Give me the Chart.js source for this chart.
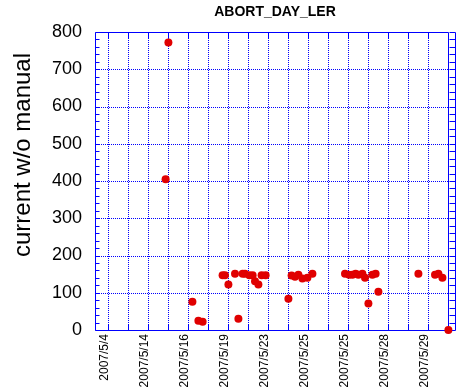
<!DOCTYPE html>
<html>
<head>
<meta charset="utf-8">
<script src="https://cdn.jsdelivr.net/npm/chart.js@4.4.0/dist/chart.umd.min.js"></script>
<style>
html,body{margin:0;padding:0;background:#fff;}
#wrap{width:463px;height:392px;position:relative;}
</style>
</head>
<body>
<div id="wrap"><canvas id="c" width="463" height="392"></canvas></div>
<script>
// ---- data ----
const chartTitle = 'ABORT_DAY_LER';
const yTitle = 'current w/o manual';
const xTickLabels = ['2007/5/4','2007/5/14','2007/5/16','2007/5/19','2007/5/23','2007/5/25','2007/5/25','2007/5/28','2007/5/29'];
const xTickPositions = [0, 2, 4, 6, 8, 10, 12, 14, 16];
const xGridPositions = [0,1,2,3,4,5,6,7,8,9,10,11,12,13,14,15,16];
const yTickValues = [0,100,200,300,400,500,600,700,800];
const xPositions = [2.88, 3.02, 4.22, 4.52, 4.73, 5.73, 5.85, 6.02, 6.35, 6.52, 6.73, 6.85, 7.07, 7.23, 7.35, 7.52, 7.68, 7.88,
  9.02, 9.18, 9.35, 9.52, 9.72, 9.97, 10.22,
  11.85, 12.05, 12.22, 12.38, 12.52, 12.72, 12.85, 13.02, 13.22, 13.38, 13.52,
  15.52, 16.35, 16.52, 16.72, 17.02];
const currentValues = [405, 772, 76, 25, 22, 147, 147, 122, 151, 30, 151, 151, 147, 147, 131, 122, 147, 147,
  84, 146, 143, 148, 138, 140, 151,
  151, 148, 148, 151, 148, 151, 140, 71, 148, 151, 103,
  151, 148, 151, 140, 0];

const points = xPositions.map((x, i) => ({x: x, y: currentValues[i]}));
const BLUE = '#0000ff';

const framePlugin = {
  id: 'frame',
  beforeDatasetsDraw(chart) {
    const ctx = chart.ctx;
    const a = chart.chartArea;
    const xs = chart.scales.x, ys = chart.scales.y;
    ctx.save();
    ctx.strokeStyle = BLUE;
    ctx.lineWidth = 1;
    ctx.setLineDash([1, 1]);
    xGridPositions.forEach(k => {
      const px = Math.round(xs.getPixelForValue(k)) + 0.5;
      ctx.beginPath(); ctx.moveTo(px, a.top); ctx.lineTo(px, a.bottom); ctx.stroke();
    });
    yTickValues.slice(1, -1).forEach(v => {
      const py = Math.round(ys.getPixelForValue(v)) + 0.5;
      ctx.beginPath(); ctx.moveTo(a.left, py); ctx.lineTo(a.right, py); ctx.stroke();
    });
    ctx.setLineDash([]);
    // frame
    const L = Math.round(a.left) + 0.5, R = Math.round(a.right) + 0.5;
    const T = Math.round(a.top) + 0.5, B = Math.round(a.bottom) + 0.5;
    ctx.beginPath();
    ctx.moveTo(L, T); ctx.lineTo(R, T); ctx.lineTo(R, B); ctx.lineTo(L, B); ctx.closePath();
    ctx.stroke();
    // x ticks (top and bottom, inward)
    xGridPositions.forEach(k => {
      const px = Math.round(xs.getPixelForValue(k)) + 0.5;
      ctx.beginPath(); ctx.moveTo(px, B); ctx.lineTo(px, B - 6); ctx.stroke();
      ctx.beginPath(); ctx.moveTo(px, T); ctx.lineTo(px, T + 6); ctx.stroke();
    });
    // y minor ticks left and right
    for (let v = 0; v <= 800; v += 20) {
      const py = Math.round(ys.getPixelForValue(v)) + 0.5;
      ctx.beginPath(); ctx.moveTo(L, py); ctx.lineTo(L + 4, py); ctx.stroke();
      ctx.beginPath(); ctx.moveTo(R + 7, py); ctx.lineTo(R + 1, py); ctx.stroke();
    }
    ctx.beginPath(); ctx.moveTo(R + 7, T); ctx.lineTo(R + 7, B); ctx.stroke();
    ctx.restore();
  },
  afterDraw(chart) {
    const ctx = chart.ctx;
    ctx.save();
    ctx.fillStyle = '#000';
    ctx.font = 'bold 14px "Liberation Sans", Arial, sans-serif';
    ctx.textAlign = 'center';
    ctx.textBaseline = 'middle';
    ctx.fillText(chartTitle, 275, 12);
    ctx.translate(30, 155);
    ctx.rotate(-Math.PI / 2);
    ctx.font = '24px "Liberation Sans", Arial, sans-serif';
    ctx.textAlign = 'center';
    ctx.textBaseline = 'alphabetic';
    ctx.fillText(yTitle, 0, 0);
    ctx.restore();
  }
};

new Chart(document.getElementById('c'), {
  type: 'scatter',
  data: {
    datasets: [{
      data: points,
      backgroundColor: 'rgb(224,0,0)',
      borderWidth: 0,
      pointRadius: 4,
      pointHoverRadius: 4,
      clip: false
    }]
  },
  options: {
    responsive: false,
    animation: false,
    events: [],
    layout: {padding: {left: 0, right: 15, top: 32, bottom: 0}},
    plugins: {legend: {display: false}, tooltip: {enabled: false}, title: {display: false}},
    scales: {
      x: {
        type: 'linear',
        min: -0.65,
        max: 17,
        grid: {display: false, drawTicks: false},
        border: {display: false},
        afterBuildTicks: s => { s.ticks = xTickPositions.map(v => ({value: v})); },
        afterFit: s => { s.height = 62; },
        ticks: {
          autoSkip: false,
          maxRotation: 90,
          minRotation: 90,
          padding: 4,
          labelOffset: -3,
          color: '#000',
          font: {family: '"Liberation Sans", Arial, sans-serif', size: 12},
          callback: (v, i) => xTickLabels[i]
        }
      },
      y: {
        type: 'linear',
        min: 0,
        max: 800,
        grid: {display: false, drawTicks: false},
        border: {display: false},
        afterBuildTicks: s => { s.ticks = yTickValues.map(v => ({value: v})); },
        afterFit: s => { s.width = 95; },
        ticks: {
          padding: 13,
          color: '#000',
          font: {family: '"Liberation Sans", Arial, sans-serif', size: 18},
          callback: v => String(v)
        }
      }
    }
  },
  plugins: [framePlugin]
});
</script>
</body>
</html>
